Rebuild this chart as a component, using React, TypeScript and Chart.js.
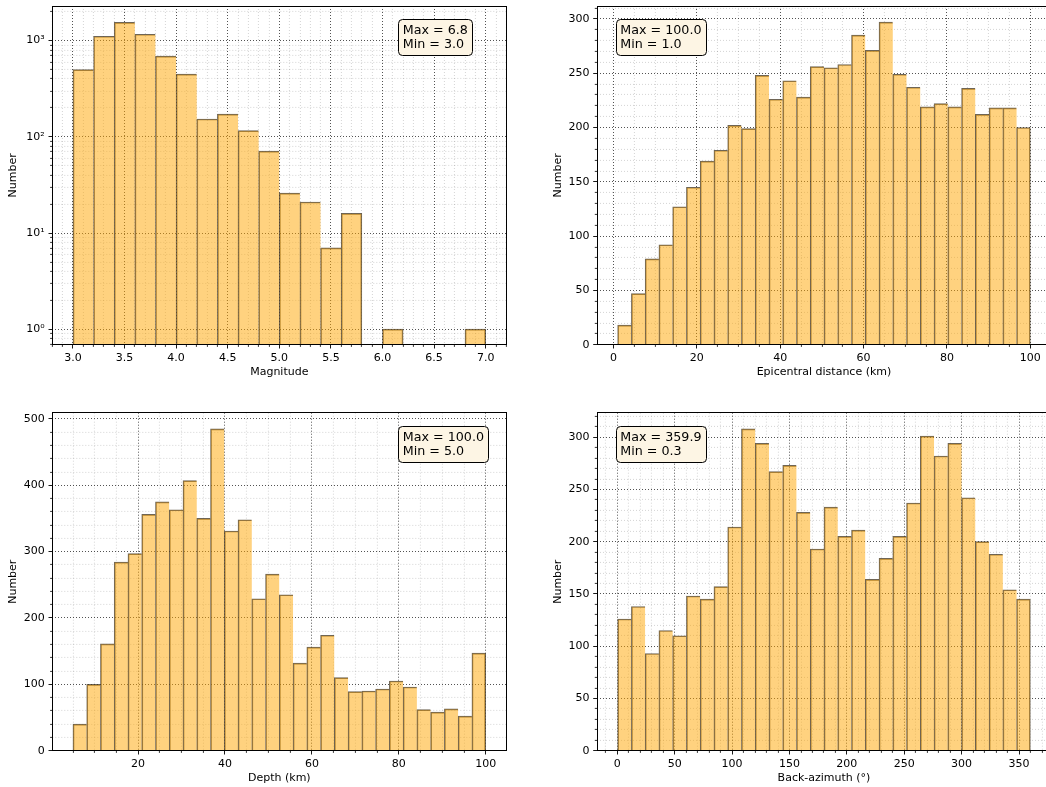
import React, { useEffect, useRef } from "react";
import { Chart, registerables } from "chart.js";

Chart.register(...registerables);

const FONT = "'DejaVu Sans', 'Liberation Sans', sans-serif";

// ---------------- Panel 1: Magnitude (log y) ----------------
const magnitudeBinEdges = [3.0, 3.2, 3.4, 3.6, 3.8, 4.0, 4.2, 4.4, 4.6, 4.8, 5.0, 5.2, 5.4, 5.6, 5.8, 6.0, 6.2, 6.4, 6.6, 6.8, 7.0];
const magnitudeCounts = [500, 1110, 1550, 1165, 690, 448, 153, 172, 116, 71, 26, 21, 7, 16, 0, 1, 0, 0, 0, 1];
const magnitudeXTicks = [3.0, 3.5, 4.0, 4.5, 5.0, 5.5, 6.0, 6.5, 7.0];
const magnitudeXTickLabels = ["3.0", "3.5", "4.0", "4.5", "5.0", "5.5", "6.0", "6.5", "7.0"];
const magnitudeYTicks = [1, 10, 100, 1000];
const magnitudeYTickLabels = ["10\u2070", "10\u00b9", "10\u00b2", "10\u00b3"];
const magnitudeStats = ["Max = 6.8", "Min = 3.0"];

// ---------------- Panel 2: Epicentral distance ----------------
const distanceRange = [1.0, 100.0];
const distanceCounts = [18, 47, 79, 92, 127, 145, 169, 179, 202, 199, 248, 226, 243, 228, 256, 255, 258, 285, 271, 297, 249, 237, 219, 222, 219, 236, 212, 218, 218, 200];
const distanceXTicks = [0, 20, 40, 60, 80, 100];
const distanceXTickLabels = ["0", "20", "40", "60", "80", "100"];
const distanceYTicks = [0, 50, 100, 150, 200, 250, 300];
const distanceYTickLabels = ["0", "50", "100", "150", "200", "250", "300"];
const distanceStats = ["Max = 100.0", "Min = 1.0"];

// ---------------- Panel 3: Depth ----------------
const depthRange = [5.0, 100.0];
const depthCounts = [40, 100, 161, 284, 297, 356, 375, 363, 407, 350, 485, 331, 348, 229, 266, 235, 132, 156, 174, 110, 89, 90, 93, 105, 96, 62, 58, 63, 52, 147];
const depthXTicks = [20, 40, 60, 80, 100];
const depthXTickLabels = ["20", "40", "60", "80", "100"];
const depthYTicks = [0, 100, 200, 300, 400, 500];
const depthYTickLabels = ["0", "100", "200", "300", "400", "500"];
const depthStats = ["Max = 100.0", "Min = 5.0"];

// ---------------- Panel 4: Back-azimuth ----------------
const azimuthRange = [0.3, 359.9];
const azimuthCounts = [126, 138, 93, 115, 110, 148, 145, 157, 214, 308, 294, 267, 273, 228, 193, 233, 205, 211, 164, 184, 205, 237, 301, 282, 294, 242, 200, 188, 154, 145];
const azimuthXTicks = [0, 50, 100, 150, 200, 250, 300, 350];
const azimuthXTickLabels = ["0", "50", "100", "150", "200", "250", "300", "350"];
const azimuthYTicks = [0, 50, 100, 150, 200, 250, 300];
const azimuthYTickLabels = ["0", "50", "100", "150", "200", "250", "300"];
const azimuthStats = ["Max = 359.9", "Min = 0.3"];

// ---------------- helpers ----------------
function histEdges(lo: number, hi: number, n: number): number[] {
  const out: number[] = [];
  for (let i = 0; i <= n; i++) out.push(lo + ((hi - lo) * i) / n);
  return out;
}

function stepMinors(lo: number, hi: number, step: number, majors: number[]): number[] {
  const out: number[] = [];
  const a = Math.ceil(lo / step - 1e-9);
  const b = Math.floor(hi / step + 1e-9);
  for (let k = a; k <= b; k++) {
    const v = k * step;
    if (!majors.some((m) => Math.abs(m - v) < step * 1e-3)) out.push(v);
  }
  return out;
}

function logMinors(lo: number, hi: number): number[] {
  const out: number[] = [];
  for (let e = -2; e <= 5; e++) {
    for (let k = 2; k <= 9; k++) {
      const v = k * Math.pow(10, e);
      if (v >= lo && v <= hi) out.push(v);
    }
  }
  return out;
}

const CANVAS_W = 520;
const CANVAS_H = 395;
const AX_W = 454;
const BAR_FILL = "rgba(255,165,0,0.5)";
const BAR_EDGE = "rgba(70,58,36,0.78)";
const MAJOR_GRID = "rgba(0,0,0,0.85)";
const MINOR_GRID = "rgba(0,0,0,0.22)";
const BOX_FILL = "#fdf5e4";

interface Spec {
  axLeft: number;
  axTop: number;
  axH: number;
  edges: number[];
  counts: number[];
  log: boolean;
  xMin: number;
  xMax: number;
  xTicks: number[];
  xTickLabels: string[];
  xMinor: number[];
  yMin: number;
  yMax: number;
  yTicks: number[];
  yTickLabels: string[];
  yMinor: number[];
  xTitle: string;
  stats: string[];
  statsFx: number;
}

function linearLimits(lo: number, hi: number) {
  const m = (hi - lo) * 0.05;
  return [lo - m, hi + m];
}

const dEdges = histEdges(distanceRange[0], distanceRange[1], distanceCounts.length);
const pEdges = histEdges(depthRange[0], depthRange[1], depthCounts.length);
const aEdges = histEdges(azimuthRange[0], azimuthRange[1], azimuthCounts.length);
const dX = linearLimits(distanceRange[0], distanceRange[1]);
const pX = linearLimits(depthRange[0], depthRange[1]);
const aX = linearLimits(azimuthRange[0], azimuthRange[1]);
const mX = linearLimits(magnitudeBinEdges[0], magnitudeBinEdges[magnitudeBinEdges.length - 1]);

const SPECS: Spec[] = [
  {
    axLeft: 52.3, axTop: 6, axH: 338.7,
    edges: magnitudeBinEdges, counts: magnitudeCounts, log: true,
    xMin: mX[0], xMax: mX[1], xTicks: magnitudeXTicks, xTickLabels: magnitudeXTickLabels,
    xMinor: stepMinors(mX[0], mX[1], 0.1, magnitudeXTicks),
    yMin: 0.69, yMax: 2290, yTicks: magnitudeYTicks, yTickLabels: magnitudeYTickLabels,
    yMinor: logMinors(0.69, 2290),
    xTitle: "Magnitude", stats: magnitudeStats, statsFx: 0.772,
  },
  {
    axLeft: 597, axTop: 6, axH: 338.7,
    edges: dEdges, counts: distanceCounts, log: false,
    xMin: dX[0], xMax: dX[1], xTicks: distanceXTicks, xTickLabels: distanceXTickLabels,
    xMinor: stepMinors(dX[0], dX[1], 5, distanceXTicks),
    yMin: 0, yMax: Math.max(...distanceCounts) * 1.05, yTicks: distanceYTicks, yTickLabels: distanceYTickLabels,
    yMinor: stepMinors(0, Math.max(...distanceCounts) * 1.05, 10, distanceYTicks),
    xTitle: "Epicentral distance (km)", stats: distanceStats, statsFx: 0.0513,
  },
  {
    axLeft: 52.3, axTop: 412.7, axH: 338,
    edges: pEdges, counts: depthCounts, log: false,
    xMin: pX[0], xMax: pX[1], xTicks: depthXTicks, xTickLabels: depthXTickLabels,
    xMinor: stepMinors(pX[0], pX[1], 5, depthXTicks),
    yMin: 0, yMax: Math.max(...depthCounts) * 1.05, yTicks: depthYTicks, yTickLabels: depthYTickLabels,
    yMinor: stepMinors(0, Math.max(...depthCounts) * 1.05, 20, depthYTicks),
    xTitle: "Depth (km)", stats: depthStats, statsFx: 0.772,
  },
  {
    axLeft: 597, axTop: 412.7, axH: 338,
    edges: aEdges, counts: azimuthCounts, log: false,
    xMin: aX[0], xMax: aX[1], xTicks: azimuthXTicks, xTickLabels: azimuthXTickLabels,
    xMinor: stepMinors(aX[0], aX[1], 10, azimuthXTicks),
    yMin: 0, yMax: Math.max(...azimuthCounts) * 1.05, yTicks: azimuthYTicks, yTickLabels: azimuthYTickLabels,
    yMinor: stepMinors(0, Math.max(...azimuthCounts) * 1.05, 10, azimuthYTicks),
    xTitle: "Back-azimuth (\u00b0)", stats: azimuthStats, statsFx: 0.0513,
  },
];

function canvasPos(s: Spec) {
  const left = Math.round(s.axLeft) - 52;
  const top = Math.round(s.axTop) - 6;
  return { left, top };
}

function align(px: number, w: number) {
  const h = w / 2;
  return Math.round(px - h) + h;
}

function buildConfig(s: Spec): any {
  const { left, top } = canvasPos(s);
  const yAxisW = s.axLeft - left;
  const padTop = s.axTop - top;
  const padRight = CANVAS_W - yAxisW - AX_W;
  const xAxisH = CANVAS_H - padTop - s.axH;

  const data = s.counts.map((c, i) => ({
    x: (s.edges[i] + s.edges[i + 1]) / 2,
    y: s.log && c === 0 ? null : c,
  }));

  const decor = {
    id: "decor",
    beforeDatasetsDraw(chart: any) {
      const { ctx, chartArea: a } = chart;
      const xs = chart.scales.x;
      const ys = chart.scales.y;
      ctx.save();
      ctx.lineWidth = 0.8;
      ctx.strokeStyle = MINOR_GRID;
      ctx.setLineDash([1, 2]);
      ctx.beginPath();
      for (const v of s.xMinor) {
        const px = align(xs.getPixelForValue(v), 0.8);
        ctx.moveTo(px, a.top);
        ctx.lineTo(px, a.bottom);
      }
      for (const v of s.yMinor) {
        const py = align(ys.getPixelForValue(v), 0.8);
        ctx.moveTo(a.left, py);
        ctx.lineTo(a.right, py);
      }
      ctx.stroke();
      ctx.setLineDash([]);
      ctx.strokeStyle = "#000";
      ctx.lineWidth = 0.8;
      ctx.beginPath();
      for (const v of s.xMinor) {
        const px = align(xs.getPixelForValue(v), 0.8);
        ctx.moveTo(px, a.bottom);
        ctx.lineTo(px, a.bottom + 2.2);
      }
      for (const v of s.yMinor) {
        const py = align(ys.getPixelForValue(v), 0.8);
        ctx.moveTo(a.left, py);
        ctx.lineTo(a.left - 2.2, py);
      }
      ctx.stroke();
      ctx.restore();
    },
    afterDatasetsDraw(chart: any) {
      const { ctx, chartArea: a } = chart;
      ctx.save();
      ctx.strokeStyle = "#000";
      ctx.lineWidth = 1;
      const l = Math.floor(a.left) + 0.5;
      const t = Math.floor(a.top) + 0.5;
      const r = Math.floor(a.right) + 0.5;
      const b = Math.floor(a.bottom) + 0.5;
      ctx.strokeRect(l, t, r - l, b - t);
      ctx.restore();
    },
    afterDraw(chart: any) {
      const { ctx, chartArea: a } = chart;
      ctx.save();
      ctx.font = `12.7px ${FONT}`;
      let w = 0;
      for (const line of s.stats) w = Math.max(w, ctx.measureText(line).width);
      const textLeft = a.left + s.statsFx * (a.right - a.left);
      const bx = Math.round(textLeft - 4.4) + 0.5;
      const by = Math.round(a.top + 13) + 0.5;
      const bw = Math.round(w + 8.8);
      const bh = 36;
      const r = 4;
      ctx.beginPath();
      ctx.moveTo(bx + r, by);
      ctx.lineTo(bx + bw - r, by);
      ctx.arcTo(bx + bw, by, bx + bw, by + r, r);
      ctx.lineTo(bx + bw, by + bh - r);
      ctx.arcTo(bx + bw, by + bh, bx + bw - r, by + bh, r);
      ctx.lineTo(bx + r, by + bh);
      ctx.arcTo(bx, by + bh, bx, by + bh - r, r);
      ctx.lineTo(bx, by + r);
      ctx.arcTo(bx, by, bx + r, by, r);
      ctx.closePath();
      ctx.fillStyle = BOX_FILL;
      ctx.fill();
      ctx.strokeStyle = "#000";
      ctx.lineWidth = 1;
      ctx.stroke();
      ctx.fillStyle = "#000";
      ctx.textAlign = "left";
      ctx.textBaseline = "alphabetic";
      s.stats.forEach((line, i) => {
        ctx.fillText(line, textLeft, by + 14.5 + i * 14.2);
      });
      ctx.restore();
    },
  };

  const tickFont = { family: FONT, size: 11 };

  return {
    type: "bar",
    data: {
      datasets: [
        {
          data,
          backgroundColor: BAR_FILL,
          borderColor: BAR_EDGE,
          borderSkipped: false,
          borderWidth: (ctx: any) => {
            const i = ctx.dataIndex;
            const next = s.counts[i + 1];
            const right = i === s.counts.length - 1 || !next ? 1 : 0;
            return { left: 1, top: 1, right, bottom: 0 };
          },
          barPercentage: 1,
          categoryPercentage: 1,
          grouped: false,
        },
      ],
    },
    options: {
      animation: false,
      responsive: false,
      maintainAspectRatio: false,
      devicePixelRatio: 1,
      events: [],
      layout: { padding: { top: padTop, right: padRight, bottom: 0, left: 0 } },
      plugins: { legend: { display: false }, tooltip: { enabled: false } },
      scales: {
        x: {
          type: "linear",
          min: s.xMin,
          max: s.xMax,
          bounds: "data",
          offset: false,
          afterBuildTicks: (sc: any) => {
            sc.ticks = s.xTicks.map((v) => ({ value: v }));
          },
          afterFit: (sc: any) => {
            sc.height = xAxisH;
            sc.paddingLeft = 0;
            sc.paddingRight = 0;
          },
          ticks: {
            autoSkip: false,
            maxRotation: 0,
            minRotation: 0,
            padding: 2.6,
            color: "#000",
            font: tickFont,
            callback: (v: number) => {
              const i = s.xTicks.findIndex((t) => Math.abs(t - v) < 1e-9);
              return i >= 0 ? s.xTickLabels[i] : "";
            },
          },
          grid: {
            offset: false,
            color: MAJOR_GRID,
            lineWidth: 0.8,
            drawTicks: true,
            tickLength: 3.8,
            tickColor: "#000",
            tickWidth: 0.9,
          },
          border: { display: false, dash: [1, 2] },
          title: {
            display: true,
            text: s.xTitle,
            color: "#000",
            font: tickFont,
            padding: { top: 0, bottom: xAxisH - 27.6 - 6.6 },
          },
        },
        y: {
          type: s.log ? "logarithmic" : "linear",
          min: s.yMin,
          max: s.yMax,
          bounds: "data",
          afterBuildTicks: (sc: any) => {
            sc.ticks = s.yTicks.map((v) => ({ value: v }));
          },
          afterFit: (sc: any) => {
            sc.width = yAxisW;
            sc.paddingTop = 0;
            sc.paddingBottom = 0;
          },
          ticks: {
            autoSkip: false,
            padding: 3.8,
            color: "#000",
            font: tickFont,
            callback: (v: number) => {
              const i = s.yTicks.findIndex((t) => Math.abs(t - v) < 1e-9 * Math.max(1, t));
              return i >= 0 ? s.yTickLabels[i] : "";
            },
          },
          grid: {
            color: MAJOR_GRID,
            lineWidth: 0.8,
            drawTicks: true,
            tickLength: 3.8,
            tickColor: "#000",
            tickWidth: 0.9,
          },
          border: { display: false, dash: [1, 2] },
          title: {
            display: true,
            text: "Number",
            color: "#000",
            font: tickFont,
            padding: { top: yAxisW - 38.8 - 6.6, bottom: 0 },
          },
        },
      },
    },
    plugins: [decor],
  };
}

function Panel({ spec }: { spec: Spec }) {
  const ref = useRef<HTMLCanvasElement | null>(null);
  useEffect(() => {
    if (!ref.current) return;
    const chart = new Chart(ref.current, buildConfig(spec));
    return () => chart.destroy();
  }, [spec]);
  const { left, top } = canvasPos(spec);
  return (
    <canvas
      ref={ref}
      width={CANVAS_W}
      height={CANVAS_H}
      style={{ position: "absolute", left, top, width: CANVAS_W, height: CANVAS_H }}
    />
  );
}

export default function App() {
  return (
    <div
      style={{
        position: "fixed",
        left: 0,
        top: 0,
        width: 1046,
        height: 787,
        overflow: "hidden",
        background: "#ffffff",
      }}
    >
      {SPECS.map((s, i) => (
        <Panel key={i} spec={s} />
      ))}
    </div>
  );
}
